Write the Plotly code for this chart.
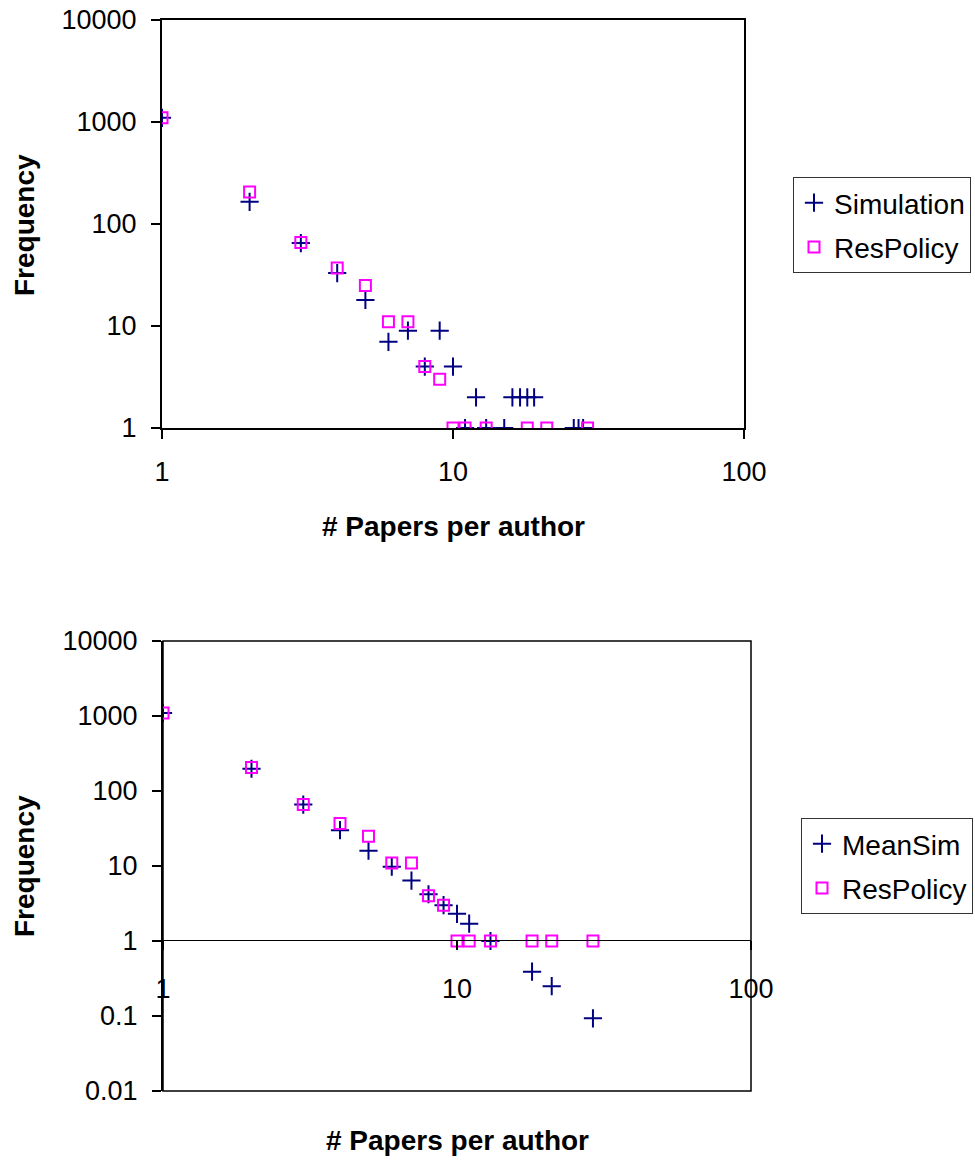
import plotly.graph_objects as go

# ---------------- data ----------------
# top chart
top_sim_x = [1, 2, 3, 4, 5, 6, 7, 8, 9, 10, 11, 12, 13, 15, 16, 17, 18, 19, 26, 27, 28]
top_sim_y = [1100, 165, 65, 33, 18, 7, 9, 4, 9, 4, 1, 2, 1, 1, 2, 2, 2, 2, 1, 1, 1]
top_res_x = [1, 2, 3, 4, 5, 6, 7, 8, 9, 10, 11, 13, 18, 21, 29]
top_res_y = [1100, 206, 66, 37, 25, 11, 11, 4, 3, 1, 1, 1, 1, 1, 1]

# bottom chart
bot_sim_x = [1, 2, 3, 4, 5, 6, 7, 8, 9, 10, 11, 13, 18, 21, 29]
bot_sim_y = [1100, 198, 66, 30, 16, 9.8, 6.4, 4.2, 3.0, 2.3, 1.7, 1.0, 0.39, 0.25, 0.093]
bot_res_x = [1, 2, 3, 4, 5, 6, 7, 8, 9, 10, 11, 13, 18, 21, 29]
bot_res_y = [1100, 206, 66, 37, 25, 11, 11, 4, 3, 1, 1, 1, 1, 1, 1]

x_tickvals = [1, 10, 100]
x_ticktext = ["1", "10", "100"]
top_y_tickvals = [1, 10, 100, 1000, 10000]
top_y_ticktext = ["1", "10", "100", "1000", "10000"]
bot_y_tickvals = [0.01, 0.1, 1, 10, 100, 1000, 10000]
bot_y_ticktext = ["0.01", "0.1", "1", "10", "100", "1000", "10000"]

x_title = "# Papers per author"
y_title = "Frequency"

# ---------------- styling ----------------
W, H = 975, 1162
FONT = "Liberation Sans, Arial, Helvetica, sans-serif"
NAVY = "#000080"
MAGENTA = "#FF00FF"
TICKFONT = dict(family=FONT, size=27, color="black")


def px_x(p):
    return p / W


def px_y(p):
    return 1 - p / H


sim_marker = dict(symbol="cross-thin-open", size=13, color=NAVY, line=dict(color=NAVY, width=2))
res_marker = dict(symbol="square-open", size=11, color=MAGENTA, line=dict(color=MAGENTA, width=2))

fig = go.Figure()
fig.add_trace(go.Scatter(x=top_sim_x, y=top_sim_y, mode="markers", name="Simulation",
                         marker=sim_marker, xaxis="x", yaxis="y", legend="legend",
                         legendgroup="a"))
fig.add_trace(go.Scatter(x=top_res_x, y=top_res_y, mode="markers", name="ResPolicy",
                         marker=res_marker, xaxis="x", yaxis="y", legend="legend",
                         legendgroup="b"))
fig.add_trace(go.Scatter(x=bot_sim_x, y=bot_sim_y, mode="markers", name="MeanSim",
                         marker=sim_marker, xaxis="x2", yaxis="y2", legend="legend2",
                         legendgroup="c"))
fig.add_trace(go.Scatter(x=bot_res_x, y=bot_res_y, mode="markers", name="ResPolicy",
                         marker=res_marker, xaxis="x2", yaxis="y2", legend="legend2",
                         legendgroup="d"))

common_axis = dict(type="log", showgrid=False, zeroline=False, showline=True,
                   linecolor="black", ticks="outside", ticklen=9, tickwidth=1.5,
                   tickcolor="black", tickfont=TICKFONT, automargin=False)

top_x_dom = [px_x(162), px_x(744)]
top_y_dom = [px_y(428), px_y(20)]
bot_x_dom = [px_x(163), px_x(751)]
bot_y_dom = [px_y(1091), px_y(641)]

fig.update_layout(
    template="none",
    width=W, height=H,
    margin=dict(l=0, r=0, t=0, b=0),
    paper_bgcolor="white", plot_bgcolor="white",
    font=dict(family=FONT, size=27, color="black"),
    xaxis=dict(common_axis, domain=top_x_dom, anchor="y", range=[0, 2],
               tickvals=x_tickvals, ticktext=x_ticktext, linewidth=2, mirror=True,
               ticklabelstandoff=10),
    yaxis=dict(common_axis, domain=top_y_dom, anchor="x", range=[0, 4],
               tickvals=top_y_tickvals, ticktext=top_y_ticktext, linewidth=2, mirror=True,
               ticklabelstandoff=9),
    xaxis2=dict(common_axis, domain=bot_x_dom, anchor="free", position=px_y(940),
                range=[0, 2], tickvals=x_tickvals, ticktext=x_ticktext, linewidth=1,
                ticklabelstandoff=16),
    yaxis2=dict(common_axis, domain=bot_y_dom, anchor="x2", range=[-2, 4],
                tickvals=bot_y_tickvals, ticktext=bot_y_ticktext, linewidth=2,
                ticklabelstandoff=9),
    legend=dict(x=px_x(793), y=px_y(177), xanchor="left", yanchor="top",
                bgcolor="white", bordercolor="#333333", borderwidth=1,
                font=dict(family=FONT, size=28, color="black"),
                tracegroupgap=5, traceorder="grouped"),
    legend2=dict(x=px_x(801), y=px_y(818), xanchor="left", yanchor="top",
                 bgcolor="white", bordercolor="#333333", borderwidth=1,
                 font=dict(family=FONT, size=28, color="black"),
                 tracegroupgap=5, traceorder="grouped"),
    showlegend=True,
)

# frame of the lower plot area
fig.add_shape(type="rect", xref="x2 domain", yref="y2 domain", x0=0, x1=1, y0=0, y1=1,
              line=dict(color="black", width=1.5), layer="below")

title_font = dict(family=FONT, size=28, color="black", weight="bold")
for (x, y, text, angle) in [
    (24, 225, y_title, -90),
    (24, 866, y_title, -90),
    (453, 527, x_title, 0),
    (457, 1140, x_title, 0),
]:
    fig.add_annotation(x=px_x(x), y=px_y(y), xref="paper", yref="paper", text=text,
                       showarrow=False, textangle=angle, font=title_font,
                       xanchor="center", yanchor="middle")

fig.write_html(
    "out.html",
    config={"displayModeBar": False},
    post_script="document.body.style.margin='0';document.body.style.overflow='hidden';",
)
